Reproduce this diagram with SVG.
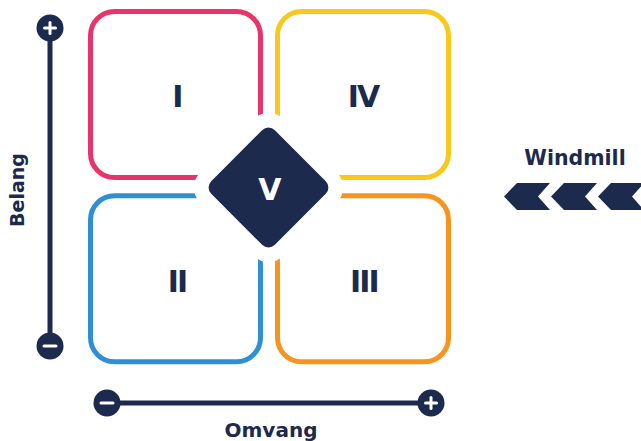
<svg xmlns="http://www.w3.org/2000/svg" width="641" height="441" viewBox="0 0 641 441">
<style>
.box{fill:#ffffff;stroke-width:5}
.num{font-family:"DejaVu Sans",Verdana,sans-serif;font-weight:bold;font-size:30px;fill:#1c2a4e;text-anchor:middle;letter-spacing:-1.9px}
.lbl{font-family:"DejaVu Sans",Verdana,sans-serif;font-weight:bold;font-size:20px;fill:#1c2a4e;text-anchor:middle}
.axis{stroke:#1c2a4e;stroke-width:5;fill:none}
.cap{fill:#1c2a4e}
.sign{stroke:#ffffff;stroke-width:3;stroke-linecap:round}
.chev{fill:#1c2a4e}
</style>
<rect width="641" height="441" fill="#ffffff"/>
<g id="quadrant-I">
<rect class="box" x="90.5" y="11.5" width="170" height="166" rx="24" stroke="#e8336b"/>
<text class="num" x="177" y="107">I</text>
</g>
<g id="quadrant-IV">
<rect class="box" x="277.5" y="11.5" width="171" height="166" rx="24" stroke="#f8c81c"/>
<text class="num" x="363" y="107">IV</text>
</g>
<g id="quadrant-II">
<rect class="box" x="90.5" y="195.8" width="170" height="166" rx="24" stroke="#2f8fd5"/>
<text class="num" x="177" y="292">II</text>
</g>
<g id="quadrant-III">
<rect class="box" x="277.5" y="195.8" width="171" height="166" rx="24" stroke="#f7941d"/>
<text class="num" x="364" y="292">III</text>
</g>
<g id="center-V">
<rect x="-58.7" y="-58.7" width="117.4" height="117.4" rx="20" fill="#ffffff" transform="translate(268.5,187.5) rotate(45)"/>
<rect x="-45" y="-45" width="90" height="90" rx="9" fill="#1c2a4e" transform="translate(268.5,187.5) rotate(45)"/>
<text class="num" x="269" y="200" fill="#ffffff" style="fill:#ffffff">V</text>
</g>
<g id="axes">
<line class="axis" x1="50" y1="28" x2="50" y2="346"/>
<circle class="cap" cx="50" cy="28" r="13.5"/>
<line class="sign" x1="44.5" y1="28" x2="55.5" y2="28"/>
<line class="sign" x1="50" y1="22.5" x2="50" y2="33.5"/>
<circle class="cap" cx="50" cy="346" r="13.5"/>
<line class="sign" x1="44" y1="346" x2="56" y2="346"/>
<line class="axis" x1="107" y1="403" x2="431" y2="403"/>
<circle class="cap" cx="107" cy="403" r="13.5"/>
<line class="sign" x1="101" y1="403" x2="113" y2="403"/>
<circle class="cap" cx="431" cy="403" r="13.5"/>
<line class="sign" x1="425.5" y1="403" x2="436.5" y2="403"/>
<line class="sign" x1="431" y1="397.5" x2="431" y2="408.5"/>
</g>
<g id="labels">
<text class="lbl" transform="translate(24,190) rotate(-90)" x="0" y="0" style="font-size:19px">Belang</text>
<text class="lbl" x="271" y="437">Omvang</text>
<text class="lbl" x="575" y="165" style="font-size:20.5px">Windmill</text>
</g>
<g id="windmill-arrows">
<path class="chev" d="M504,196.5 L517,183 L550,183 L538,196.5 L550,210 L517,210 Z"/>
<path class="chev" d="M551,196.5 L564,183 L597,183 L585,196.5 L597,210 L564,210 Z"/>
<path class="chev" d="M598,196.5 L611,183 L644,183 L632,196.5 L644,210 L611,210 Z"/>
</g>
</svg>
